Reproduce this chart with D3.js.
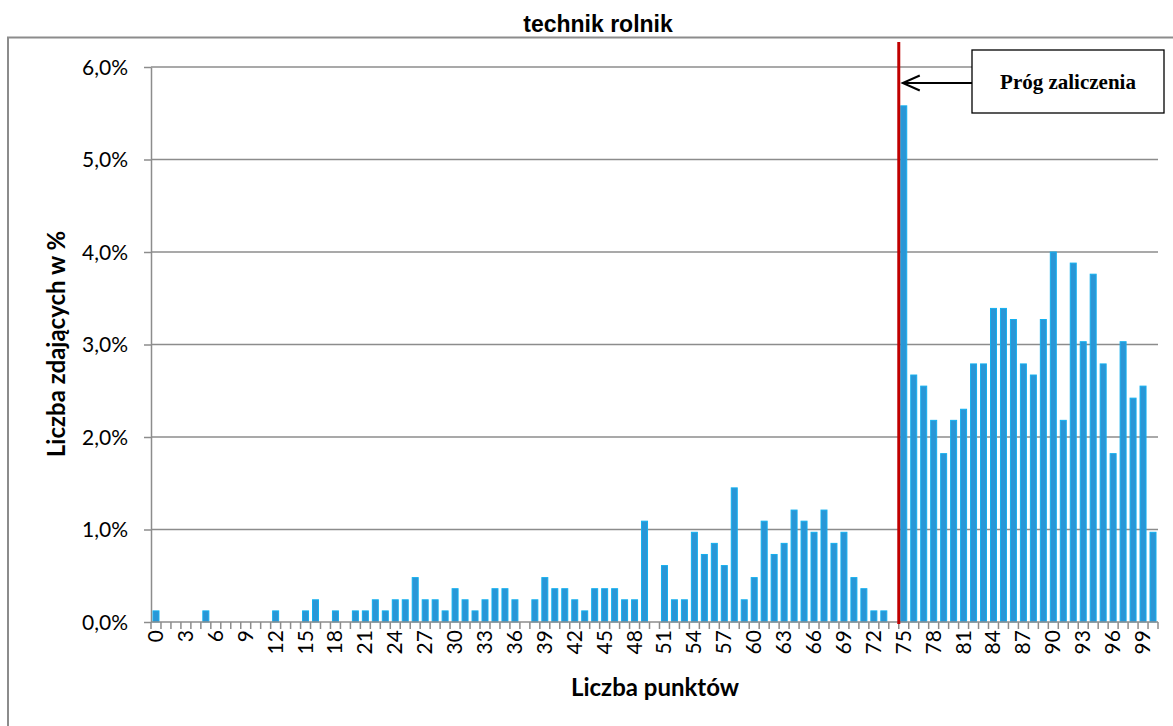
<!DOCTYPE html>
<html>
<head>
<meta charset="utf-8">
<script src="https://cdn.jsdelivr.net/npm/d3@7"></script>
<style>
html, body { margin: 0; padding: 0; background: #fff; }
svg { display: block; }
</style>
</head>
<body>
<svg id="chart" width="1173" height="726"></svg>
<script>
const title = "technik rolnik";
const xAxisTitle = "Liczba punktów";
const yAxisTitle = "Liczba zdających w %";
const thresholdLabel = "Próg zaliczenia";
const thresholdScore = 75;
const points = d3.range(0, 101);
const yTicks = [0, 1, 2, 3, 4, 5, 6];
const xTickLabels = d3.range(0, 101, 3);
// share of candidates (%) for each score 0..100
const percentages = [
  0.12, 0, 0, 0, 0, 0.12, 0, 0, 0, 0,
  0, 0, 0.12, 0, 0, 0.12, 0.24, 0, 0.12, 0,
  0.12, 0.12, 0.24, 0.12, 0.24, 0.24, 0.48, 0.24, 0.24, 0.12,
  0.36, 0.24, 0.12, 0.24, 0.36, 0.36, 0.24, 0, 0.24, 0.48,
  0.36, 0.36, 0.24, 0.12, 0.36, 0.36, 0.36, 0.24, 0.24, 1.09,
  0, 0.61, 0.24, 0.24, 0.97, 0.73, 0.85, 0.61, 1.45, 0.24,
  0.48, 1.09, 0.73, 0.85, 1.21, 1.09, 0.97, 1.21, 0.85, 0.97,
  0.48, 0.36, 0.12, 0.12, 0, 5.58, 2.67, 2.55, 2.18, 1.82,
  2.18, 2.30, 2.79, 2.79, 3.39, 3.39, 3.27, 2.79, 2.67, 3.27,
  4.00, 2.18, 3.88, 3.03, 3.76, 2.79, 1.82, 3.03, 2.42, 2.55,
  0.97
];

const svg = d3.select("#chart");
const gray = "#8c8c8c";
const plotLeft = 151, plotRight = 1158, plotTop = 67, plotBottom = 622;

const x = d3.scaleBand().domain(points).range([plotLeft, plotRight]).paddingInner(0.4).paddingOuter(0.2);
const y = d3.scaleLinear().domain([0, 6]).range([plotBottom, plotTop]);

// outer chart border (extends past the right/bottom edges)
svg.append("rect")
  .attr("x", 8).attr("y", 37.5).attr("width", 1200).attr("height", 800)
  .attr("fill", "none").attr("stroke", gray).attr("stroke-width", 2);

// title
svg.append("text")
  .attr("x", 598).attr("y", 32)
  .attr("text-anchor", "middle")
  .attr("font-family", "Liberation Sans, Arial, sans-serif")
  .attr("font-weight", "bold").attr("font-size", 23)
  .text(title);

// gridlines
svg.append("g").selectAll("line").data(yTicks.filter(d => d > 0)).join("line")
  .attr("x1", plotLeft).attr("x2", plotRight)
  .attr("y1", d => y(d)).attr("y2", d => y(d))
  .attr("stroke", gray).attr("stroke-width", 1.5);

// y axis
const yAxis = d3.axisLeft(y).tickValues(yTicks).tickSize(7).tickSizeOuter(0)
  .tickFormat(d => d3.format(".1f")(d).replace(".", ",") + "%");
const gy = svg.append("g").attr("transform", `translate(${plotLeft},0)`).call(yAxis);
gy.select(".domain").attr("stroke", gray).attr("stroke-width", 1.5);
gy.selectAll(".tick line").attr("stroke", gray).attr("stroke-width", 1.5);
gy.selectAll(".tick text")
  .attr("x", -23).attr("dy", "0.35em")
  .attr("font-family", "Lato, sans-serif").attr("font-size", 21).attr("fill", "#000");

// bars
svg.append("g").selectAll("rect").data(points).join("rect")
  .attr("x", d => x(d)).attr("width", x.bandwidth())
  .attr("y", d => y(percentages[d]))
  .attr("height", d => y(0) - y(percentages[d]))
  .attr("fill", "#2a96d6").attr("stroke", "#13b0ef").attr("stroke-width", 1)
  .attr("display", d => percentages[d] > 0 ? null : "none");

// x axis (ticks at category boundaries)
const step = x.step();
const boundaries = d3.range(0, points.length + 1).map(i => plotLeft + i * (plotRight - plotLeft) / points.length);
svg.append("line").attr("x1", plotLeft).attr("x2", plotRight).attr("y1", plotBottom).attr("y2", plotBottom)
  .attr("stroke", gray).attr("stroke-width", 1.5);
svg.append("g").selectAll("line").data(boundaries).join("line")
  .attr("x1", d => d).attr("x2", d => d).attr("y1", plotBottom).attr("y2", plotBottom + 7)
  .attr("stroke", gray).attr("stroke-width", 1.5);
svg.append("g").selectAll("text").data(xTickLabels).join("text")
  .attr("transform", d => `translate(${x(d) + x.bandwidth() / 2 + 7},${630}) rotate(-90)`)
  .attr("text-anchor", "end")
  .attr("font-family", "Lato, sans-serif").attr("font-size", 21)
  .text(d => d);

// axis titles
svg.append("text")
  .attr("x", 655).attr("y", 696).attr("text-anchor", "middle")
  .attr("font-family", "Lato, sans-serif").attr("font-weight", "bold").attr("font-size", 24)
  .text(xAxisTitle);
svg.append("text")
  .attr("transform", `translate(65,344) rotate(-90)`).attr("text-anchor", "middle")
  .attr("font-family", "Lato, sans-serif").attr("font-weight", "bold").attr("font-size", 24)
  .text(yAxisTitle);

// threshold line
const tx = x(thresholdScore) - (step - x.bandwidth()) / 2;
svg.append("line").attr("x1", tx).attr("x2", tx).attr("y1", 42).attr("y2", 624)
  .attr("stroke", "#c00000").attr("stroke-width", 3);

// annotation box and arrow
svg.append("rect").attr("x", 972).attr("y", 50).attr("width", 192).attr("height", 63)
  .attr("fill", "#fff").attr("stroke", "#000").attr("stroke-width", 1.3);
svg.append("text").attr("x", 1068).attr("y", 89).attr("text-anchor", "middle")
  .attr("font-family", "Liberation Serif, Times New Roman, serif").attr("font-weight", "bold").attr("font-size", 21)
  .text(thresholdLabel);
svg.append("line").attr("x1", 972).attr("x2", tx + 4).attr("y1", 83).attr("y2", 83)
  .attr("stroke", "#000").attr("stroke-width", 2);
svg.append("path").attr("d", `M${tx + 21},75.5 L${tx + 4},83 L${tx + 21},90.5`)
  .attr("fill", "none").attr("stroke", "#000").attr("stroke-width", 2);
</script>
</body>
</html>
